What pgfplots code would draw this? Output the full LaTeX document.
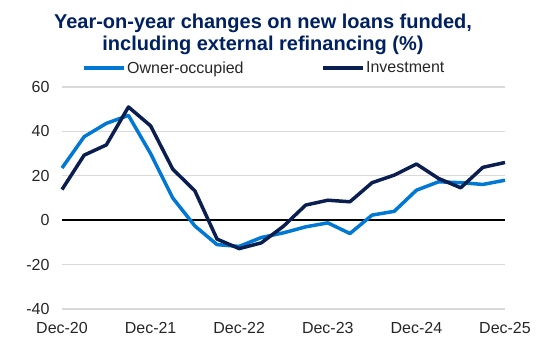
\documentclass[border=0pt]{standalone}
\usepackage{fontspec}
\setmainfont{Liberation Sans}
\usepackage{pgfplots}
\pgfplotsset{compat=1.18}
\definecolor{oo}{RGB}{0,120,212}
\definecolor{inv}{RGB}{10,30,80}
\definecolor{ttl}{RGB}{0,32,96}
\definecolor{grd}{RGB}{217,217,217}
\definecolor{txt}{RGB}{38,38,38}
\begin{document}
\begin{tikzpicture}
\begin{axis}[
  at={(0,0)}, anchor=south west,
  scale only axis, width=443bp, height=222bp,
  xmin=0, xmax=20, ymin=-40, ymax=60,
  xtick={0,4,8,12,16,20},
  xticklabels={Dec-20,Dec-21,Dec-22,Dec-23,Dec-24,Dec-25},
  ytick={-40,-20,0,20,40,60},
  axis line style={draw=none},
  tick style={draw=none},
  major tick length=0pt,
  ymajorgrids,
  grid style={grd, line width=1.3bp},
  extra y ticks={0},
  extra y tick labels={},
  extra y tick style={grid style={black, line width=1.5bp}},
  tick label style={font=\fontsize{16bp}{18bp}\selectfont, text=txt},
  yticklabel style={xshift=-9bp},
  xticklabel style={yshift=-10bp},
  /pgf/number format/assume math mode=true,
  clip=false,
  legend columns=2,
  legend style={draw=none, fill=none, inner sep=0pt,
    at={(0.045,1.0856)}, anchor=west,
    font=\fontsize{16bp}{18bp}\selectfont, text=txt,
    nodes={inner sep=1.5bp},
    /tikz/every even column/.append style={column sep=76bp}},
  legend image code/.code={\draw[#1, line width=3.5bp] (0bp,0bp) -- (40bp,0bp);},
]
\addplot[oo, line width=3.5bp, line join=round] coordinates {
(0,23.5) (1,37.6) (2,43.6) (3,47.2) (4,30) (5,10) (6,-2.6) (7,-11) (8,-11.8) (9,-7.8) (10,-5.7)
(11,-3) (12,-1.2) (13,-6) (14,2.3) (15,4) (16,13.5) (17,17.3) (18,16.9) (19,16.1) (20,18)};
\addlegendentry{Owner-occupied}
\addplot[inv, line width=3.5bp, line join=round] coordinates {
(0,13.8) (1,29.3) (2,33.9) (3,51) (4,42.5) (5,23) (6,13.2) (7,-8.5) (8,-12.8) (9,-10.2) (10,-2.7)
(11,6.8) (12,9) (13,8.3) (14,16.9) (15,20.3) (16,25.3) (17,18.8) (18,14.6) (19,23.8) (20,26)};
\addlegendentry{Investment}
\end{axis}
\node[anchor=base, font=\bfseries\fontsize{20bp}{23bp}\selectfont, text=ttl] at (201bp,280.7bp) {Year-on-year changes on new loans funded,};
\node[anchor=base, font=\bfseries\fontsize{20bp}{23bp}\selectfont, text=ttl] at (201bp,258.3bp) {including external refinancing (\%)};
\pgfresetboundingbox
\useasboundingbox (-62bp,-44bp) rectangle (476bp,309bp);
\end{tikzpicture}
\end{document}
